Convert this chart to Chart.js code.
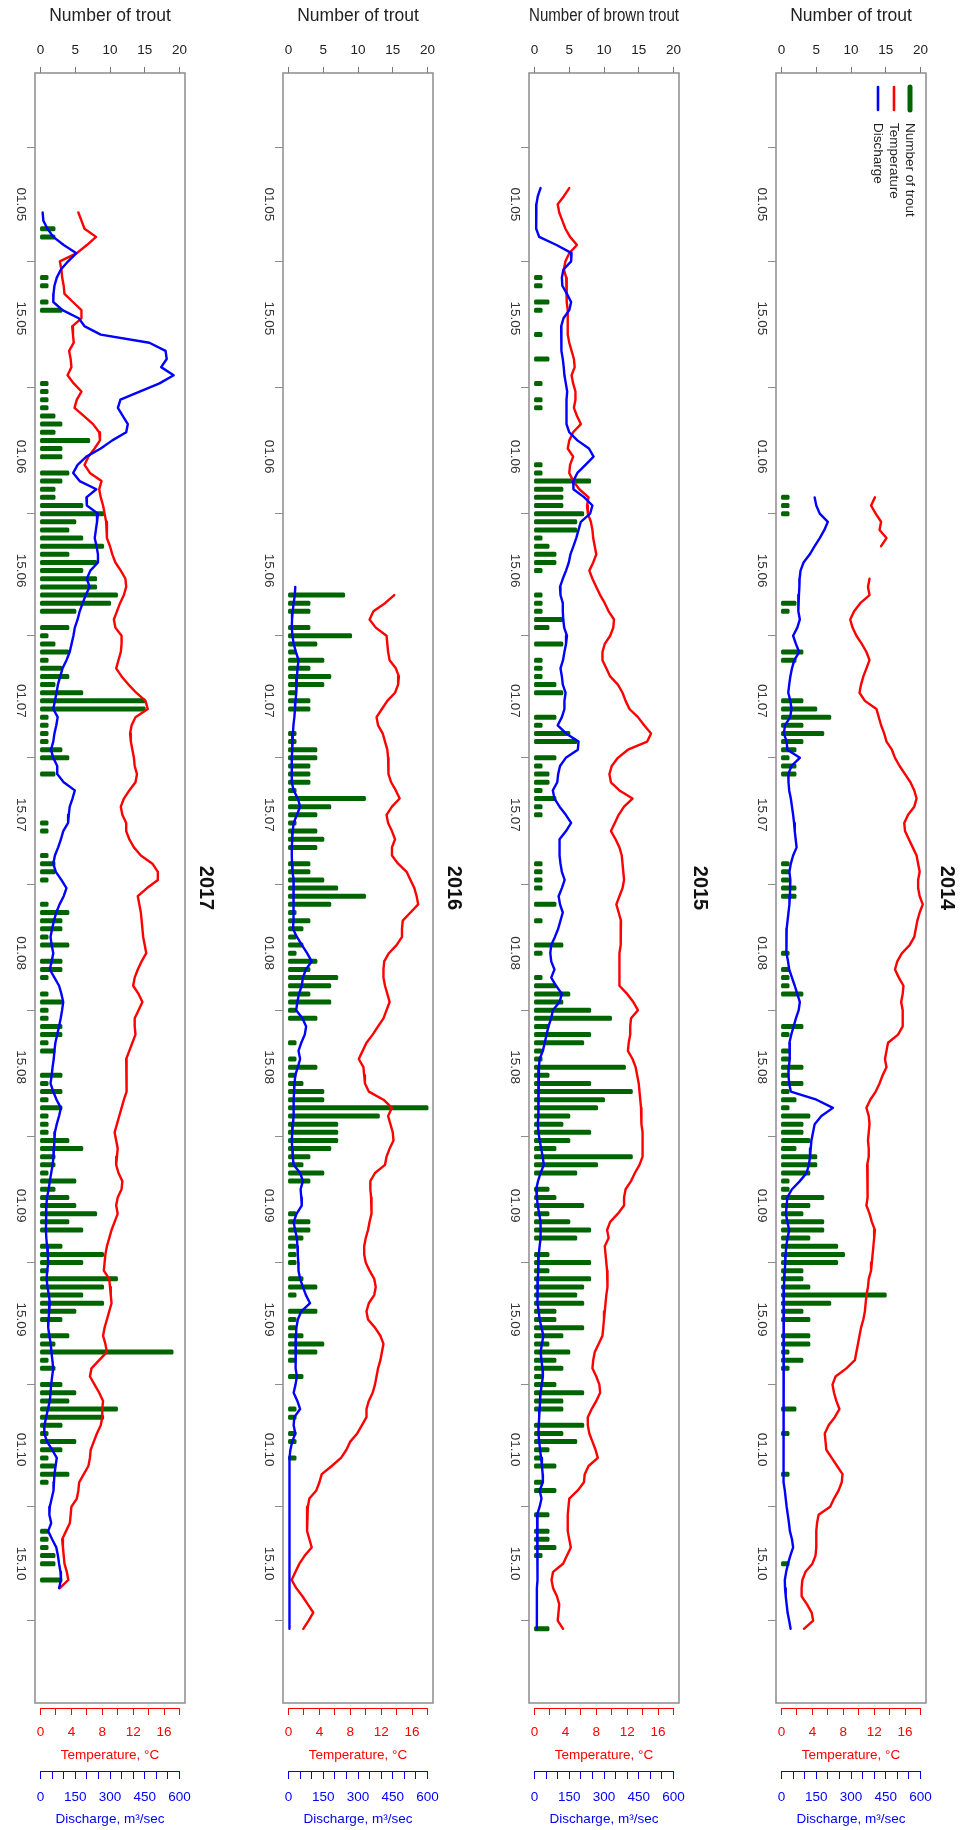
<!DOCTYPE html>
<html>
<head>
<meta charset="utf-8">
<script src="https://cdn.jsdelivr.net/npm/chart.js@4/dist/chart.umd.min.js"></script>
<style>
  html, body { margin: 0; padding: 0; background: #ffffff; }
  #wrap { position: relative; width: 968px; height: 1830px; overflow: hidden; }
  #wrap canvas { position: absolute; top: 0; }
</style>
</head>
<body>
<div id="wrap">
  <canvas id="p2017"></canvas>
  <canvas id="p2016"></canvas>
  <canvas id="p2015"></canvas>
  <canvas id="p2014"></canvas>
</div>
<script>
// ---- axis ticks (dates are counted in days from 1 May) ----
const dateTickDays   = [0, 14, 31, 45, 61, 75, 92, 106, 123, 137, 153, 167];
const dateTickLabels = ['01.05', '15.05', '01.06', '15.06', '01.07', '15.07',
                        '01.08', '15.08', '01.09', '15.09', '01.10', '15.10'];
const troutTicks = [0, 5, 10, 15, 20];
const tempTicks = [0, 2, 4, 6, 8, 10, 12, 14, 16, 18];
const tempLabelled = [0, 4, 8, 12, 16];
const flowTicks = [0, 50, 100, 150, 200, 250, 300, 350, 400, 450, 500, 550, 600];
const flowLabelled = [0, 150, 300, 450, 600];

// ---- 2017 ----
const catchDays2017 = [3, 4, 9, 10, 12, 13, 22, 23, 24, 25, 26, 27, 28, 29, 30, 31, 33, 34, 35, 36,
  37, 38, 39, 40, 41, 42, 43, 44, 45, 46, 47, 48, 49, 50, 52, 53, 54, 55, 56, 57,
  58, 59, 60, 61, 62, 63, 64, 65, 66, 67, 68, 70, 76, 77, 80, 81, 82, 83, 86, 87,
  88, 89, 90, 91, 93, 94, 95, 97, 98, 99, 100, 101, 102, 103, 104, 107, 108, 109, 110, 111,
  112, 113, 114, 115, 116, 117, 118, 119, 120, 121, 122, 123, 124, 125, 126, 128, 129, 130, 131, 132,
  133, 134, 135, 136, 137, 139, 140, 141, 142, 143, 145, 146, 147, 148, 149, 150, 151, 152, 153, 154,
  155, 156, 157, 163, 164, 165, 166, 167, 169];
const catchCounts2017 = [2, 2, 1, 1, 1, 3, 1, 1, 1, 1, 2, 3, 2, 7, 3, 3, 4, 3, 2, 2,
  6, 9, 5, 4, 6, 9, 4, 8, 6, 8, 8, 11, 10, 5, 4, 1, 2, 4, 1, 3,
  4, 2, 6, 15, 15, 1, 1, 1, 1, 3, 4, 2, 1, 1, 1, 2, 2, 1, 1, 4,
  3, 3, 1, 4, 3, 3, 1, 1, 3, 1, 1, 3, 3, 1, 2, 3, 1, 3, 1, 3,
  1, 1, 1, 4, 6, 2, 2, 1, 5, 2, 4, 5, 8, 4, 6, 3, 9, 6, 1, 11,
  9, 6, 9, 5, 3, 4, 2, 19, 1, 2, 3, 5, 4, 11, 9, 3, 1, 5, 3, 1,
  2, 4, 1, 1, 1, 1, 2, 2, 3];
const tempStart2017 = 1;
const temp2017 = [4.9, 5.3, 5.7, 7.2, 6.0, 4.7, 2.5, 2.7, 2.8, 3.0,
  3.1, 4.2, 5.3, 5.3, 4.1, 4.2, 4.3, 3.7, 3.9, 4.0,
  3.5, 4.3, 5.3, 4.7, 4.4, 5.6, 6.8, 7.6, 7.7, 7.0,
  6.2, 5.7, 6.4, 7.9, 7.6, 7.8, 8.1, 8.3, 8.5, 8.6,
  8.6, 9.0, 9.3, 9.7, 10.4, 11.0, 11.1, 10.8, 10.3, 9.9,
  9.5, 9.7, 10.5, 10.5, 10.4, 10.1, 9.8, 10.5, 11.4, 12.4,
  13.6, 13.9, 12.3, 11.8, 11.6, 11.7, 11.9, 12.1, 12.2, 12.5,
  12.3, 11.5, 10.8, 10.4, 10.6, 11.1, 11.1, 11.5, 12.1, 13.0,
  14.5, 15.2, 15.2, 13.8, 12.6, 12.8, 13.0, 13.1, 13.2, 13.3,
  13.5, 13.7, 13.1, 12.6, 12.2, 12.0, 12.7, 13.2, 12.7, 12.2,
  12.2, 12.3, 11.9, 11.5, 11.1, 11.1, 11.2, 11.2, 11.1, 10.8,
  10.5, 10.2, 9.9, 9.6, 9.8, 10.0, 9.9, 9.8, 10.1, 10.6,
  10.5, 10.0, 9.8, 10.0, 9.6, 9.2, 8.9, 8.6, 8.4, 8.3,
  8.2, 8.9, 9.0, 9.1, 9.2, 8.9, 8.6, 8.3, 8.1, 8.4,
  8.6, 7.6, 6.6, 6.4, 7.0, 7.6, 8.1, 8.0, 8.0, 7.8,
  7.3, 6.9, 6.5, 6.4, 6.2, 5.6, 5.0, 4.9, 4.7, 4.0,
  3.9, 3.8, 3.3, 2.8, 2.9, 3.0, 3.1, 3.4, 3.6, 2.5];
const flowStart2017 = 1;
const flow2017 = [9, 12, 30, 55, 100, 155, 119, 88, 70, 60,
  56, 55, 95, 165, 191, 260, 470, 540, 545, 521,
  575, 514, 428, 345, 334, 355, 377, 370, 310, 260,
  198, 160, 141, 169, 241, 198, 200, 248, 244, 239,
  234, 242, 248, 248, 215, 200, 212, 195, 182, 169,
  160, 148, 142, 134, 126, 112, 95, 85, 75, 69,
  62, 55, 74, 68, 60, 55, 45, 55, 72, 72,
  100, 148, 138, 126, 122, 119, 98, 88, 76, 62,
  55, 66, 90, 112, 100, 82, 68, 58, 50, 43,
  48, 55, 48, 40, 60, 80, 90, 98, 93, 87,
  80, 72, 64, 60, 57, 52, 48, 43, 55, 69,
  88, 80, 70, 62, 60, 58, 56, 52, 46, 40,
  35, 28, 25, 24, 24, 23, 25, 28, 31, 33,
  29, 26, 30, 36, 40, 37, 35, 33, 38, 44,
  47, 51, 55, 50, 46, 43, 40, 32, 24, 17,
  16, 28, 50, 70, 65, 60, 58, 56, 48, 40,
  38, 46, 33, 50, 68, 75, 80, 86, 88, 80];

// ---- 2016 ----
const catchDays2016 = [48, 49, 50, 52, 53, 54, 55, 56, 57, 58, 59, 60, 61, 62, 65, 66, 67, 68, 69, 70,
  71, 72, 73, 74, 75, 76, 77, 78, 79, 81, 82, 83, 84, 85, 86, 87, 88, 89, 90, 91,
  92, 93, 94, 95, 96, 97, 98, 99, 100, 103, 105, 106, 107, 108, 109, 110, 111, 112, 113, 114,
  115, 116, 117, 118, 119, 120, 124, 125, 126, 127, 128, 129, 130, 132, 133, 134, 136, 137, 138, 139,
  140, 141, 142, 144, 148, 149, 151, 152, 154];
const catchCounts2016 = [8, 3, 3, 3, 9, 4, 1, 5, 3, 6, 5, 1, 3, 3, 1, 1, 4, 4, 3, 3,
  3, 1, 11, 6, 4, 1, 4, 5, 4, 3, 3, 5, 7, 11, 6, 1, 3, 2, 1, 2,
  1, 4, 3, 7, 6, 3, 6, 1, 4, 1, 1, 4, 1, 2, 5, 5, 20, 13, 7, 7,
  7, 6, 3, 2, 5, 3, 1, 3, 3, 2, 1, 1, 1, 2, 4, 1, 4, 1, 1, 2,
  5, 4, 1, 2, 1, 1, 1, 1, 1];
const tempStart2016 = 48;
const temp2016 = [13.7, 12.5, 11.0, 10.5, 11.3, 12.7, 12.8, 12.9, 13.1, 13.9,
  14.3, 14.2, 13.8, 12.8, 12.1, 11.4, 11.6, 12.2, 12.5, 12.8,
  12.9, 12.9, 13.0, 13.3, 13.9, 14.4, 13.4, 12.7, 12.9, 13.4,
  13.8, 13.4, 13.4, 14.2, 15.3, 15.8, 16.3, 16.6, 16.8, 15.8,
  14.8, 14.7, 14.7, 14.0, 13.0, 12.4, 12.3, 12.3, 12.5, 12.8,
  13.1, 12.7, 12.3, 11.6, 10.9, 10.1, 9.6, 9.1, 9.7, 9.8,
  9.9, 10.4, 12.3, 13.4, 12.9, 13.2, 13.5, 13.6, 13.1, 12.7,
  12.5, 11.2, 10.6, 10.6, 10.7, 10.8, 10.7, 10.5, 10.3, 10.0,
  9.8, 9.8, 10.0, 10.5, 11.1, 11.3, 11.1, 10.4, 10.1, 10.3,
  11.2, 11.9, 12.3, 12.1, 11.9, 11.6, 11.4, 11.2, 10.9, 10.4,
  10.1, 10.1, 9.5, 8.9, 8.0, 7.5, 6.8, 5.6, 4.3, 4.0,
  3.6, 2.7, 2.5, 2.4, 2.4, 2.4, 2.7, 3.0, 2.1, 1.4,
  0.9, 0.4, 1.0, 1.8, 2.5, 3.2, 2.6, 1.9];
const flowStart2016 = 47;
const flow2016 = [29, 27, 22, 18, 15, 14, 17, 22, 32, 43,
  39, 36, 34, 33, 30, 28, 25, 21, 19, 17,
  15, 14, 14, 14, 14, 22, 40, 50, 36, 22,
  18, 16, 14, 14, 15, 17, 22, 22, 22, 22,
  21, 20, 19, 36, 58, 80, 100, 75, 62, 57,
  45, 38, 33, 60, 76, 70, 55, 43, 50, 40,
  29, 26, 24, 22, 22, 22, 19, 16, 14, 16,
  18, 22, 50, 62, 52, 55, 57, 35, 22, 28,
  36, 38, 40, 42, 43, 50, 62, 75, 93, 55,
  40, 34, 32, 31, 30, 29, 32, 36, 30, 22,
  38, 50, 25, 22, 29, 16, 8, 4, 4, 4,
  4, 4, 4, 4, 4, 4, 4, 4, 4, 4,
  4, 4, 4, 4, 4, 4, 4, 4, 4];

// ---- 2015 ----
const catchDays2015 = [9, 10, 12, 13, 16, 19, 22, 24, 25, 32, 33, 34, 35, 36, 37, 38, 39, 40, 41, 42,
  43, 44, 45, 48, 49, 50, 51, 52, 54, 56, 57, 58, 59, 60, 63, 64, 65, 66, 68, 69,
  70, 71, 72, 73, 74, 75, 81, 82, 83, 84, 86, 88, 91, 92, 95, 96, 97, 98, 99, 100,
  101, 102, 103, 104, 105, 106, 107, 108, 109, 110, 111, 112, 113, 114, 115, 116, 117, 118, 119, 121,
  122, 123, 124, 125, 126, 127, 129, 130, 131, 132, 133, 134, 135, 136, 137, 138, 139, 140, 141, 142,
  143, 144, 145, 146, 147, 148, 150, 151, 152, 153, 154, 155, 157, 158, 161, 163, 164, 165, 166, 175];
const catchCounts2015 = [1, 1, 2, 1, 1, 2, 1, 1, 1, 1, 1, 8, 4, 4, 4, 7, 6, 6, 1, 2,
  3, 3, 1, 1, 1, 1, 4, 2, 4, 1, 1, 1, 3, 4, 3, 1, 5, 6, 3, 1,
  2, 2, 1, 3, 1, 1, 1, 1, 1, 1, 3, 1, 4, 1, 1, 3, 5, 4, 8, 11,
  2, 8, 7, 1, 1, 13, 2, 8, 14, 10, 9, 5, 4, 8, 5, 3, 14, 9, 6, 2,
  3, 7, 2, 5, 8, 6, 2, 8, 2, 8, 7, 6, 7, 3, 3, 7, 4, 2, 5, 3,
  4, 1, 3, 7, 4, 4, 7, 4, 6, 2, 1, 3, 1, 3, 2, 2, 2, 3, 1, 2];
const tempStart2015 = -2;
const temp2015 = [4.5, 3.8, 3.0, 3.2, 3.6, 4.0, 4.6, 5.5, 4.5, 4.0,
  3.8, 4.1, 4.1, 4.2, 4.2, 4.3, 4.3, 4.3, 4.3, 4.5,
  4.8, 5.1, 5.2, 4.8, 5.0, 5.3, 5.3, 5.1, 5.5, 6.0,
  5.0, 4.5, 4.3, 5.0, 4.6, 4.5, 5.0, 5.8, 7.0, 6.8,
  6.9, 7.3, 7.5, 7.6, 7.8, 8.0, 7.6, 7.1, 7.5, 8.0,
  8.5, 9.1, 9.6, 10.3, 10.2, 9.8, 9.1, 8.8, 8.8, 9.3,
  9.8, 10.8, 11.4, 11.8, 12.3, 13.4, 14.2, 15.1, 14.6, 12.1,
  10.8, 10.0, 9.7, 9.9, 11.0, 12.7, 11.6, 10.9, 10.4, 9.9,
  10.5, 11.0, 11.3, 11.4, 11.5, 11.6, 11.4, 11.0, 10.6, 10.9,
  11.2, 11.2, 11.2, 11.1, 11.0, 11.0, 11.0, 11.0, 11.0, 12.0,
  12.8, 13.4, 12.5, 12.4, 12.4, 12.2, 12.1, 12.7, 13.1, 13.3,
  13.5, 13.6, 13.7, 13.8, 13.8, 13.9, 14.0, 14.0, 14.0, 14.0,
  13.6, 13.0, 12.5, 11.8, 11.6, 11.6, 10.8, 9.8, 9.4, 9.6,
  9.1, 9.2, 9.3, 9.4, 9.5, 9.4, 9.3, 9.2, 9.1, 9.0,
  8.9, 8.8, 8.3, 7.8, 7.6, 7.5, 8.0, 8.4, 8.5, 8.0,
  7.4, 6.9, 6.9, 7.1, 7.5, 7.9, 8.2, 7.0, 6.5, 6.4,
  5.6, 4.5, 4.4, 4.3, 4.3, 4.3, 4.5, 4.7, 4.2, 3.7,
  2.4, 2.2, 2.4, 2.9, 3.2, 3.1, 3.0, 3.7];
const flowStart2015 = -2;
const flow2015 = [26, 14, 8, 7, 7, 7, 20, 95, 160, 158,
  125, 118, 120, 140, 158, 150, 125, 115, 115, 115,
  118, 122, 126, 129, 135, 141, 138, 140, 138, 136,
  150, 185, 235, 255, 220, 185, 167, 168, 215, 250,
  240, 200, 190, 180, 168, 155, 148, 136, 122, 110,
  112, 122, 122, 124, 128, 140, 136, 129, 123, 112,
  118, 122, 134, 129, 129, 118, 100, 136, 190, 187,
  135, 110, 102, 98, 79, 86, 108, 135, 158, 136,
  108, 108, 108, 112, 118, 130, 118, 104, 110, 122,
  112, 102, 88, 72, 68, 72, 86, 72, 93, 118,
  108, 79, 72, 60, 52, 44, 36, 22, 19, 17,
  17, 17, 17, 16, 15, 14, 17, 22, 29, 35,
  40, 26, 15, 7, 10, 14, 20, 26, 26, 26,
  22, 18, 17, 15, 14, 13, 11, 14, 18, 22,
  30, 38, 32, 26, 30, 34, 36, 31, 26, 24,
  22, 20, 18, 17, 20, 24, 28, 32, 35, 36,
  22, 30, 22, 11, 12, 13, 13, 14, 14, 13,
  12, 11, 10, 10, 10, 10, 10, 10];

// ---- 2014 ----
const catchDays2014 = [36, 37, 38, 49, 50, 55, 56, 61, 62, 63, 64, 65, 66, 67, 68, 69, 70, 81, 82, 83,
  84, 85, 92, 94, 95, 96, 97, 101, 102, 104, 105, 106, 107, 108, 109, 110, 111, 112, 113, 114,
  115, 116, 117, 118, 119, 120, 121, 122, 123, 124, 125, 126, 127, 128, 129, 130, 131, 132, 133, 134,
  135, 136, 137, 139, 140, 141, 142, 143, 148, 151, 156, 167];
const catchCounts2014 = [1, 1, 1, 2, 1, 3, 2, 3, 5, 7, 3, 6, 3, 2, 1, 2, 2, 1, 1, 1,
  2, 2, 1, 1, 1, 1, 3, 3, 1, 1, 1, 3, 1, 3, 1, 2, 1, 4, 3, 3,
  4, 2, 5, 5, 4, 1, 1, 6, 4, 3, 6, 6, 4, 8, 9, 8, 3, 3, 4, 15,
  7, 3, 4, 4, 4, 1, 3, 1, 2, 1, 1, 1];
const tempStart2014 = 36;
const temp2014 = [12.1, 11.6, 12.2, 12.9, 12.7, 13.6, 12.9, null, null, null,
  11.4, 11.2, 11.4, 10.2, 9.4, 8.9, 9.2, 9.7, 10.4, 11.0,
  11.4, 11.0, 10.6, 10.3, 10.1, 10.8, 12.3, 12.6, 12.9, 13.3,
  13.6, 14.3, 14.7, 15.3, 16.0, 16.7, 17.2, 17.5, 17.2, 16.4,
  15.9, 16.0, 16.5, 17.0, 17.5, 17.7, 17.9, 17.7, 17.7, 17.9,
  18.3, 17.9, 17.6, 17.4, 17.2, 16.6, 15.6, 15.0, 14.7, 15.2,
  15.8, 15.7, 15.5, 15.7, 15.7, 15.7, 15.1, 13.8, 13.6, 13.4,
  13.6, 13.1, 12.7, 12.2, 11.5, 11.0, 11.3, 11.4, 11.3, 11.2,
  11.3, 11.3, 11.1, 11.1, 11.2, 11.2, 11.1, 11.0, 11.4, 11.7,
  12.1, 12.0, 11.9, 11.8, 11.7, 11.6, 11.3, 11.2, 11.0, 10.9,
  10.8, 10.6, 10.3, 10.1, 9.9, 9.7, 9.5, 8.4, 7.0, 6.6,
  6.8, 7.1, 7.5, 6.9, 6.1, 5.6, 5.7, 5.8, 6.5, 7.2,
  7.9, 7.8, 7.4, 6.8, 6.3, 4.8, 4.6, 4.5, 4.5, 4.5,
  4.4, 4.0, 3.1, 2.7, 2.6, 2.6, 3.3, 3.9, 4.1, 2.9];
const flowStart2014 = 36;
const flow2014 = [143, 150, 165, 200, 185, 165, 143, 122, 95, 82,
  78, 77, 75, 73, 72, 79, 68, 50, 62, 76,
  55, 45, 38, 33, 29, 38, 43, 37, 15, 10,
  22, 25, 79, 43, 29, 30, 33, 40, 45, 50,
  54, 57, 61, 65, 50, 40, 34, 38, 37, 36,
  34, 30, 26, 22, 21, 20, 22, 28, 33, 45,
  57, 68, 79, 74, 62, 52, 42, 34, 35, 36,
  31, 30, 33, 40, 151, 222, 172, 143, 136, 129,
  126, 123, 118, 108, 79, 45, 25, 22, 19, 25,
  33, 26, 20, 18, 16, 14, 12, 10, 9, 8,
  7, 7, 7, 7, 7, 7, 7, 8, 8, 8,
  9, 9, 9, 10, 10, 10, 10, 10, 10, 10,
  10, 10, 14, 18, 22, 27, 32, 36, 45, 50,
  38, 28, 20, 14, 15, 18, 22, 26, 33, 39];

// ---- drawing ----
const FONT = "'Liberation Sans', Arial, Helvetica, sans-serif";
Chart.defaults.font.family = FONT;
Chart.defaults.color = '#222222';

const GREEN = '#006400', RED = '#ff0000', BLUE = '#0000ff', FRAME = '#8c8c8c';

function series(start, values) { return values.map((v, i) => ({ y: start + i, x: v })); }
function catches(days, counts) { return days.map((d, i) => ({ y: d, x: counts[i] })); }
function fixedTicks(values) { return scale => { scale.ticks = values.map(v => ({ value: v })); }; }

// box round the plotting area and R-style value axis lines
const framePlugin = {
  id: 'frame',
  afterDraw(chart) {
    const { ctx, chartArea: a } = chart;
    ctx.save();
    ['temp', 'flow'].forEach(id => {
      const s = chart.scales[id];
      const t = s.ticks;
      ctx.strokeStyle = s.options.grid.tickColor;
      ctx.lineWidth = 1;
      ctx.beginPath();
      ctx.moveTo(s.getPixelForValue(t[0].value), s.top + 0.5);
      ctx.lineTo(s.getPixelForValue(t[t.length - 1].value), s.top + 0.5);
      ctx.stroke();
    });
    ctx.strokeStyle = FRAME;
    ctx.lineWidth = 1.5;
    ctx.strokeRect(a.left, a.top, a.right - a.left, a.bottom - a.top);
    ctx.restore();
  }
};

// vertical legend in the upper right corner
const sideLegend = {
  id: 'sideLegend',
  afterDraw(chart, args, opts) {
    if (!opts || !opts.display) return;
    const { ctx, chartArea: a } = chart;
    const widths = [5, 2.6, 2.6];
    ctx.save();
    chart.data.datasets.forEach((ds, i) => {
      const x = a.right - 16 * (i + 1);
      ctx.strokeStyle = ds.borderColor;
      ctx.lineWidth = widths[i];
      ctx.lineCap = 'round';
      ctx.beginPath();
      ctx.moveTo(x, a.top + 14);
      ctx.lineTo(x, a.top + 37);
      ctx.stroke();
      ctx.save();
      ctx.translate(x, a.top + 50);
      ctx.rotate(Math.PI / 2);
      ctx.font = '13.5px ' + FONT;
      ctx.fillStyle = '#222222';
      ctx.textAlign = 'left';
      ctx.textBaseline = 'middle';
      ctx.fillText(ds.label, 0, 0);
      ctx.restore();
    });
    ctx.restore();
  }
};

const panels = [
  { id: 'p2017', left: 0,   year: '2017', title: 'Number of trout',
    days: catchDays2017, counts: catchCounts2017, tStart: tempStart2017, temp: temp2017,
    fStart: flowStart2017, flow: flow2017, legend: false },
  { id: 'p2016', left: 248, year: '2016', title: 'Number of trout',
    days: catchDays2016, counts: catchCounts2016, tStart: tempStart2016, temp: temp2016,
    fStart: flowStart2016, flow: flow2016, legend: false },
  { id: 'p2015', left: 494, year: '2015', title: 'Number of brown trout',
    days: catchDays2015, counts: catchCounts2015, tStart: tempStart2015, temp: temp2015,
    fStart: flowStart2015, flow: flow2015, legend: false },
  { id: 'p2014', left: 741, year: '2014', title: 'Number of trout',
    days: catchDays2014, counts: catchCounts2014, tStart: tempStart2014, temp: temp2014,
    fStart: flowStart2014, flow: flow2014, legend: true }
];

const tickFont = { family: FONT, size: 13.5 };

panels.forEach(p => {
  const canvas = document.getElementById(p.id);
  canvas.width = 225;
  canvas.height = 1830;
  canvas.style.left = p.left + 'px';
  canvas.style.width = '225px';
  canvas.style.height = '1830px';

  new Chart(canvas, {
    type: 'bar',
    data: {
      datasets: [
        // thick round-ended strokes, one per catch day
        { type: 'bar', label: 'Number of trout', data: catches(p.days, p.counts),
          xAxisID: 'trout', yAxisID: 'y', backgroundColor: GREEN, borderColor: GREEN,
          borderWidth: 0, barThickness: 3, borderRadius: 1.5, borderSkipped: false,
          inflateAmount: 1, order: 3 },
        { type: 'line', label: 'Temperature', data: series(p.tStart, p.temp),
          xAxisID: 'temp', yAxisID: 'y', borderColor: RED, borderWidth: 2.4,
          pointRadius: 0, tension: 0, spanGaps: false, borderJoinStyle: 'round',
          borderCapStyle: 'round', order: 2 },
        { type: 'line', label: 'Discharge', data: series(p.fStart, p.flow),
          xAxisID: 'flow', yAxisID: 'y', borderColor: BLUE, borderWidth: 2.4,
          pointRadius: 0, tension: 0, borderJoinStyle: 'round',
          borderCapStyle: 'round', order: 1 }
      ]
    },
    options: {
      indexAxis: 'y',
      responsive: false,
      animation: false,
      devicePixelRatio: 1,
      events: [],
      layout: { padding: 0 },
      plugins: {
        legend: { display: false },
        tooltip: { enabled: false },
        sideLegend: { display: p.legend }
      },
      scales: {
        y: {
          type: 'linear', position: 'left', reverse: true, min: -7.79, max: 175.77,
          afterBuildTicks: fixedTicks(dateTickDays),
          afterFit: s => { s.width = 35; },
          ticks: { autoSkip: false, minRotation: -90, maxRotation: -90, crossAlign: 'center',
                   padding: -10.4, color: '#333333', font: tickFont,
                   callback: (v, i) => dateTickLabels[i] },
          grid: { display: true, drawOnChartArea: false, drawTicks: true, tickLength: 8,
                  color: FRAME, tickColor: FRAME },
          border: { display: false }
        },
        yr: {
          type: 'linear', position: 'right',
          afterFit: s => { s.width = 40; },
          ticks: { display: false },
          grid: { display: false },
          border: { display: false },
          title: { display: true, text: p.year, color: '#111111',
                   font: { family: FONT, size: 20, weight: 'bold' }, padding: { top: 7, bottom: 0 } }
        },
        trout: {
          type: 'linear', axis: 'x', position: 'top', min: -0.8, max: 20.8,
          afterBuildTicks: fixedTicks(troutTicks),
          afterFit: s => { s.height = 73; },
          ticks: { autoSkip: false, minRotation: 0, maxRotation: 0, padding: 9,
                   color: '#222222', font: tickFont },
          grid: { display: true, drawOnChartArea: false, drawTicks: true, tickLength: 6,
                  color: '#777777', tickColor: '#777777' },
          border: { display: false },
          title: { display: true, text: p.title, color: '#222222',
                   font: { family: FONT, size: 17.5 }, padding: { top: 6, bottom: 0 } }
        },
        gap: {
          type: 'linear', axis: 'x', position: 'bottom', weight: 0,
          afterFit: s => { s.height = 5; },
          ticks: { display: false }, grid: { display: false }, border: { display: false }
        },
        temp: {
          type: 'linear', axis: 'x', position: 'bottom', weight: 1, min: -0.72, max: 18.72,
          afterBuildTicks: fixedTicks(tempTicks),
          afterFit: s => { s.height = 63; },
          ticks: { autoSkip: false, minRotation: 0, maxRotation: 0, padding: 9,
                   color: RED, font: tickFont,
                   callback: v => tempLabelled.includes(v) ? String(v) : '' },
          grid: { display: true, drawOnChartArea: false, drawTicks: true, tickLength: 7,
                  color: RED, tickColor: RED },
          border: { display: false },
          title: { display: true, text: 'Temperature, °C', color: RED,
                   font: { family: FONT, size: 13.5 }, padding: { top: 0, bottom: 8 } }
        },
        flow: {
          type: 'linear', axis: 'x', position: 'bottom', weight: 2, min: -24, max: 624,
          afterBuildTicks: fixedTicks(flowTicks),
          afterFit: s => { s.height = 59; },
          ticks: { autoSkip: false, minRotation: 0, maxRotation: 0, padding: 10,
                   color: BLUE, font: tickFont,
                   callback: v => flowLabelled.includes(v) ? String(v) : '' },
          grid: { display: true, drawOnChartArea: false, drawTicks: true, tickLength: 8,
                  color: BLUE, tickColor: BLUE },
          border: { display: false },
          title: { display: true, text: 'Discharge, m³/sec', color: BLUE,
                   font: { family: FONT, size: 13.5 }, padding: { top: 0, bottom: 3 } }
        }
      }
    },
    plugins: [framePlugin, sideLegend]
  });
});
</script>
</body>
</html>
